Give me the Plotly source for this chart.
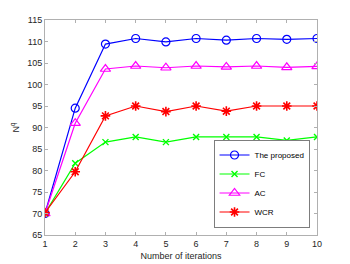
import plotly.graph_objects as go

iterations = [1, 2, 3, 4, 5, 6, 7, 8, 9, 10]
proposed = [70.0, 94.5, 109.4, 110.7, 109.9, 110.7, 110.3, 110.7, 110.5, 110.7]
fc = [70.0, 81.7, 86.6, 87.8, 86.6, 87.8, 87.8, 87.8, 87.0, 87.8]
ac = [70.0, 91.0, 103.6, 104.3, 103.9, 104.3, 104.1, 104.3, 104.0, 104.2]
wcr = [70.2, 79.7, 92.7, 95.0, 93.7, 95.0, 93.8, 95.0, 95.0, 95.0]

font = dict(family="Liberation Sans, Arial, sans-serif", size=9, color="#262626")

fig = go.Figure()
fig.add_trace(go.Scatter(x=iterations, y=proposed, name="The proposed", mode="lines+markers",
                         line=dict(color="#0000FF", width=1.2),
                         marker=dict(symbol="circle-open", size=8, color="#0000FF", line=dict(width=1.2))))
fig.add_trace(go.Scatter(x=iterations, y=fc, name="FC", mode="lines+markers",
                         line=dict(color="#00FF00", width=1.2),
                         marker=dict(symbol="x-thin-open", size=6, color="#00FF00", line=dict(width=1.4))))
fig.add_trace(go.Scatter(x=iterations, y=ac, name="AC", mode="lines+markers",
                         line=dict(color="#FF00FF", width=1.2),
                         marker=dict(symbol="triangle-up-open", size=9, color="#FF00FF", line=dict(width=1.2))))
fig.add_trace(go.Scatter(x=iterations, y=wcr, name="WCR", mode="lines+markers",
                         line=dict(color="#FF0000", width=1.2),
                         marker=dict(symbol="asterisk-open", size=8, color="#FF0000", line=dict(width=1.6))))

axis_common = dict(showgrid=False, zeroline=False, showline=True, linecolor="#B0B0B0", linewidth=1,
                   mirror="allticks", ticks="inside", ticklen=3, tickcolor="#B0B0B0",
                   tickfont=font, automargin=False)

fig.update_layout(
    width=342, height=256,
    margin=dict(l=37, r=33, t=12, b=29),
    paper_bgcolor="white", plot_bgcolor="white",
    font=font,
    xaxis=dict(range=[1, 10], tickvals=iterations, **axis_common,
               title=dict(text="Number of iterations", font=font, standoff=4)),
    yaxis=dict(range=[65, 115], tickvals=list(range(65, 116, 5)), **axis_common,
               title=dict(text="N<sup>q</sup>", font=font, standoff=6)),
    legend=dict(x=0.974, y=0.033, xanchor="right", yanchor="bottom",
                bgcolor="white", bordercolor="#262626", borderwidth=0.6,
                font=dict(family="Liberation Sans, Arial, sans-serif", size=8, color="#000000"),
                tracegroupgap=0, itemwidth=30),
    showlegend=True,
)

fig.write_html("out.html")
